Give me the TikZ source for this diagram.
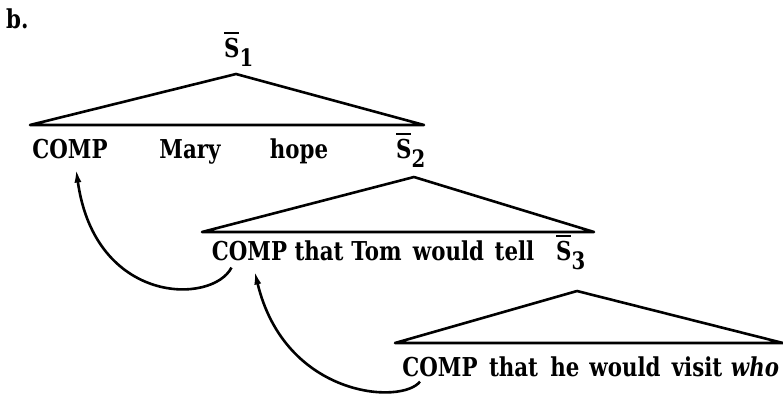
\documentclass[tikz,border=0pt]{standalone}
\usepackage{fontspec}
\setmainfont{DejaVu Serif}[FakeStretch=0.82]
\usetikzlibrary{arrows.meta,calc}
\newcommand\Sbar[1]{{\ooalign{S\cr\hidewidth\rule[23pt]{15pt}{1.9pt}\hidewidth\cr}\raisebox{-9pt}{\fontsize{24}{24}\selectfont #1}}}
\begin{document}
\begin{tikzpicture}[x=1pt,y=-1pt,
  font=\fontsize{26}{32}\selectfont\bfseries,
  w/.style={anchor=base,inner sep=0pt},
  wl/.style={anchor=base west,inner sep=0pt},
  tri/.style={line width=2.6pt,line join=round},
  arr/.style={line width=2.6pt,-{Latex[length=14pt,width=7pt]}}]
\useasboundingbox (0,0) rectangle (783,394);

\node[wl] (lab) at (6,28) {b.};

% level 1
\node[wl] (s1) at (224,57) {\Sbar{1}};
\coordinate (t1a) at (236,74);
\coordinate (t1l) at (30,125);
\coordinate (t1r) at (424,125);
\draw[tri] (t1l) -- (t1a) -- (t1r) -- cycle;
\node[w] (comp1) at (70,158) {COMP};
\node[w] (mary) at (190,158) {Mary};
\node[w] (hope) at (299,158) {hope};
\node[wl] (s2) at (396,158) {\Sbar{2}};

% level 2
\coordinate (t2a) at (414,177);
\coordinate (t2l) at (202,232);
\coordinate (t2r) at (594,232);
\draw[tri] (t2l) -- (t2a) -- (t2r) -- cycle;
\node[w] (comp2) at (249.5,260) {COMP};
\node[w] (that2) at (319,260) {that};
\node[w] (tom) at (376.5,260) {Tom};
\node[w] (would2) at (448.5,260) {would};
\node[w] (tell) at (514.5,260) {tell};
\node[wl] (s3) at (556,260) {\Sbar{3}};

% level 3
\coordinate (t3a) at (577,291);
\coordinate (t3l) at (395,343);
\coordinate (t3r) at (783,343);
\draw[tri] (t3l) -- (t3a) -- (t3r) -- cycle;
\node[w] (comp3) at (440,376) {COMP};
\node[w] (that3) at (513.5,376) {that};
\node[w] (he) at (565,376) {he};
\node[w] (would3) at (625,376) {would};
\node[w] (visit) at (697,376) {visit};
\node[w] (who) at (755,376) {\itshape who};

% movement arrows
\draw[arr] ($(comp2.south)+(-18,7)$) .. controls (212,305) and (95,305) .. ($(comp1.south)+(6,10)$);
\draw[arr] ($(comp3.south)+(-20,5)$) .. controls (402,405) and (285,398) .. ($(comp2.south)+(5,10)$);
\end{tikzpicture}
\end{document}
